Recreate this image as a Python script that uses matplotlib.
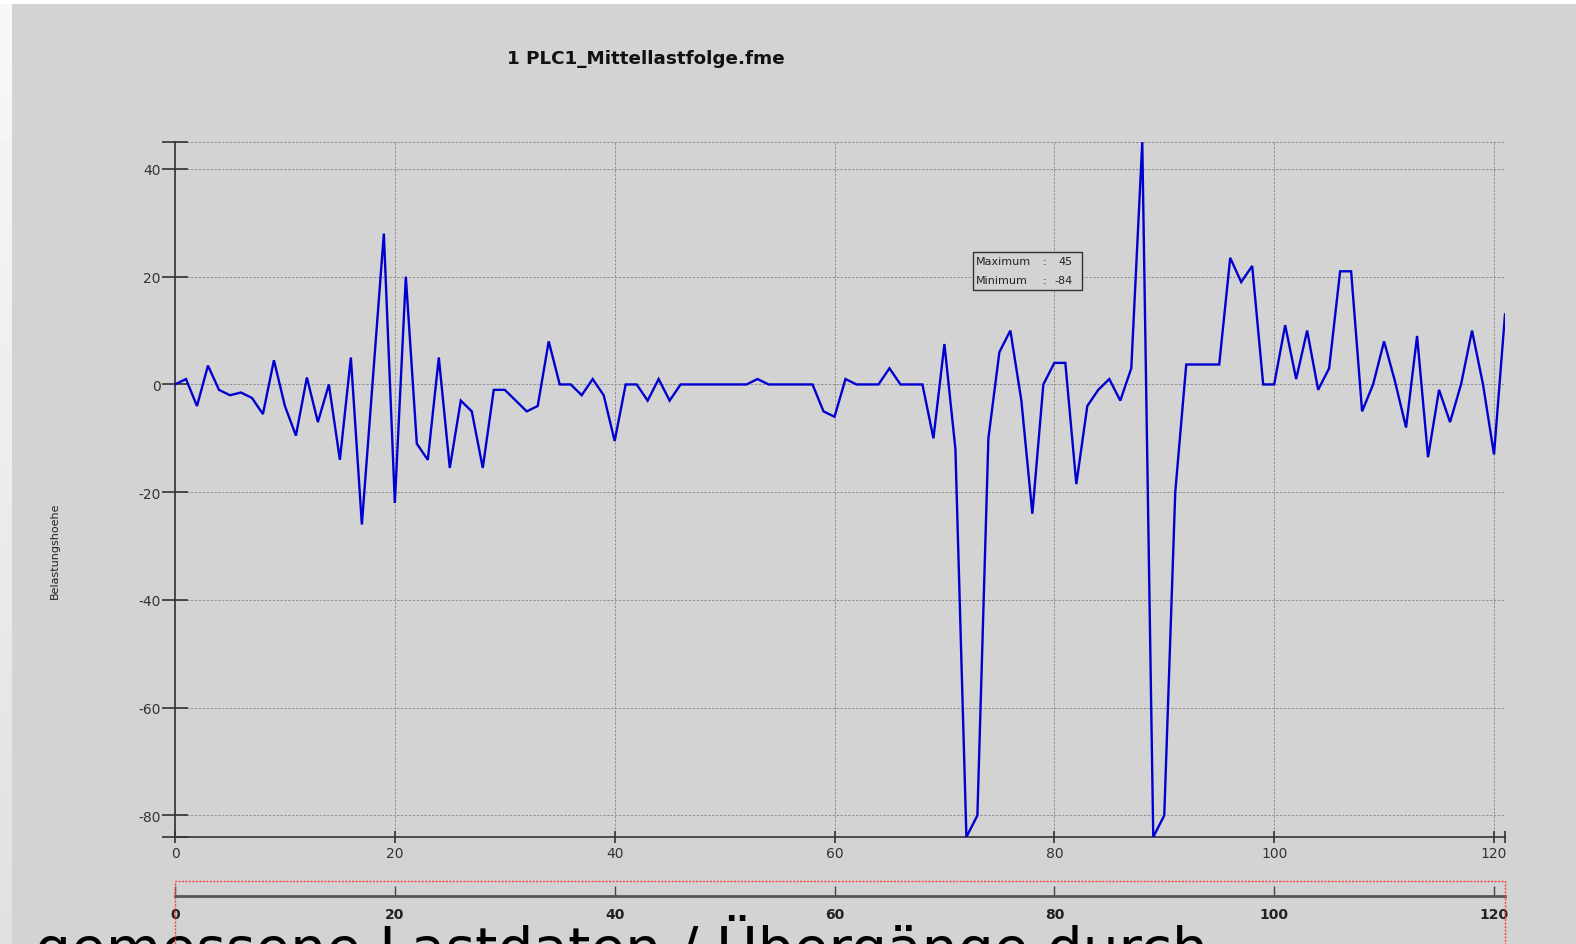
import matplotlib
matplotlib.use("Agg")
import matplotlib.pyplot as plt
from matplotlib.patches import Rectangle
from matplotlib.ticker import FixedLocator, FixedFormatter
import numpy as np

# ---- data -------------------------------------------------------------
title = "1 PLC1_Mittellastfolge.fme"
y_label = "Belastungshoehe"
caption = "gemessene Lastdaten / Übergänge durch"

load = [
    0, 1, -4, 3.5, -1, -2, -1.5, -2.5, -5.5, 4.5,
    -4, -9.5, 1.3, -7, 0, -14, 5, -26, 1, 28,
    -22, 20, -11, -14, 5, -15.5, -3, -5, -15.5, -1,
    -1, -3, -5, -4, 8, 0, 0, -2, 1, -2,
    -10.5, 0, 0, -3, 1, -3, 0, 0, 0, 0,
    0, 0, 0, 1, 0, 0, 0, 0, 0, -5,
    -6, 1, 0, 0, 0, 3, 0, 0, 0, -10,
    7.5, -12, -84, -80, -10, 6, 10, -3, -24, 0,
    4, 4, -18.5, -4, -1, 1, -3, 3, 45, -84,
    -80, -20, 3.7, 3.7, 3.7, 3.7, 23.5, 19, 22, 0,
    0, 11, 1, 10, -1, 3, 21, 21, -5, 0,
    8, 0.5, -8, 9, -13.5, -1, -7, 0, 10, 0,
    -13, 13,
]
steps = list(range(len(load)))

x_ticks = [0, 20, 40, 60, 80, 100, 120, 121]
x_tick_labels = ["0", "20", "40", "60", "80", "100", "120", ""]
y_ticks = [-84, -80, -60, -40, -20, 0, 20, 40, 45]
y_tick_labels = ["", "-80", "-60", "-40", "-20", "0", "20", "40", ""]
overview_ticks = [0, 20, 40, 60, 80, 100, 120]

# ---- figure -----------------------------------------------------------
W, H = 1576, 945
fig = plt.figure(figsize=(W / 100, H / 100), dpi=100)
fig.patch.set_facecolor("white")

def fx(px):
    return px / W

def fy(py):
    return 1 - py / H

BG = "#d3d3d3"
fig.patches.append(Rectangle((fx(12), 0), 1 - fx(12), fy(5), transform=fig.transFigure,
                             facecolor=BG, edgecolor="none", zorder=-10))
# light strip along the left edge
grad = fig.add_axes([0, 0, fx(12), fy(5)], zorder=-9)
grad.imshow(np.linspace(0.97, 0.88, 256).reshape(-1, 1), cmap="gray", vmin=0, vmax=1,
            aspect="auto", extent=(0, 1, 0, 1))
grad.axis("off")

# ---- main plot --------------------------------------------------------
left, right, top, bottom = 175, 1505, 143, 838
ax = fig.add_axes([fx(left), fy(bottom), fx(right - left), (bottom - top) / H])
ax.set_facecolor("none")
ax.plot(steps, load, color="#0000d0", lw=1.7, solid_joinstyle="miter", zorder=3)
ax.set_xlim(0, 121)
ax.set_ylim(min(load), max(load))

for s in ("top", "right"):
    ax.spines[s].set_visible(False)
for s in ("left", "bottom"):
    ax.spines[s].set_color("#333333")
    ax.spines[s].set_linewidth(1.2)

ax.xaxis.set_major_locator(FixedLocator(x_ticks))
ax.xaxis.set_major_formatter(FixedFormatter(x_tick_labels))
ax.yaxis.set_major_locator(FixedLocator(y_ticks))
ax.yaxis.set_major_formatter(FixedFormatter(y_tick_labels))
ax.tick_params(axis="y", direction="inout", length=19, width=1.2, color="#333333",
               labelsize=10, labelcolor="#333333", pad=1)
ax.tick_params(axis="x", direction="inout", length=8.5, width=1.2, color="#333333",
               labelsize=10, labelcolor="#333333", pad=2)
ax.grid(True, color="#909090", linestyle=(0, (2.5, 1.5)), linewidth=0.7)
ax.set_axisbelow(True)

# extreme value box
vmax, vmin = max(load), min(load)
fig.patches.append(Rectangle((fx(973), fy(291)), fx(1082 - 973), (291 - 253) / H,
                             transform=fig.transFigure, facecolor=BG,
                             edgecolor="#333333", lw=1.0, zorder=5))
box_font = dict(fontsize=8, color="#222222", zorder=6)
for row_y, name, val in ((262, "Maximum", vmax), (281, "Minimum", vmin)):
    fig.text(fx(976), fy(row_y), name, ha="left", va="center", **box_font)
    fig.text(fx(1045), fy(row_y), ":", ha="center", va="center", **box_font)
    fig.text(fx(1073), fy(row_y), f"{val:g}", ha="right", va="center", **box_font)

# titles
fig.text(fx(646), fy(59), title, ha="center", va="center", fontsize=13.2,
         fontweight="bold", color="#111111")
fig.text(fx(55), fy(551), y_label, ha="center", va="center", rotation=90,
         fontsize=8, color="#222222")

# ---- overview strip ---------------------------------------------------
ov_y = 897
ov = fig.add_axes([fx(left), fy(ov_y), fx(right - left), 20 / H])
ov.set_facecolor("none")
ov.set_xlim(0, 121)
ov.set_yticks([])
for s in ("top", "right", "left"):
    ov.spines[s].set_visible(False)
ov.spines["bottom"].set_color("#555555")
ov.spines["bottom"].set_linewidth(2.0)
ov.set_xticks(overview_ticks)
ov.set_xticklabels([str(t) for t in overview_ticks], fontweight="bold")
ov.tick_params(axis="x", direction="in", length=7, width=1.0, color="#444444",
               labelsize=10, labelcolor="#222222", pad=8)

fig.patches.append(Rectangle((fx(left), fy(960)), fx(right - left), (960 - 882) / H,
                             transform=fig.transFigure, facecolor="none",
                             edgecolor="#ff4040", lw=1.0, linestyle=(0, (1.5, 1)),
                             zorder=7))

# caption running off the bottom edge, sized to its target width
cap = fig.text(fx(35), 0, caption, ha="left", va="baseline", fontsize=40, color="black")
fig.canvas.draw()
width_px = cap.get_window_extent().width
size = 40 * (1206 - 35) / width_px
cap.set_fontsize(size)
em_px = size * 100 / 72
cap.set_y(fy(927 + 0.729 * em_px))

fig.savefig("out.png", dpi=100, facecolor=fig.get_facecolor())
